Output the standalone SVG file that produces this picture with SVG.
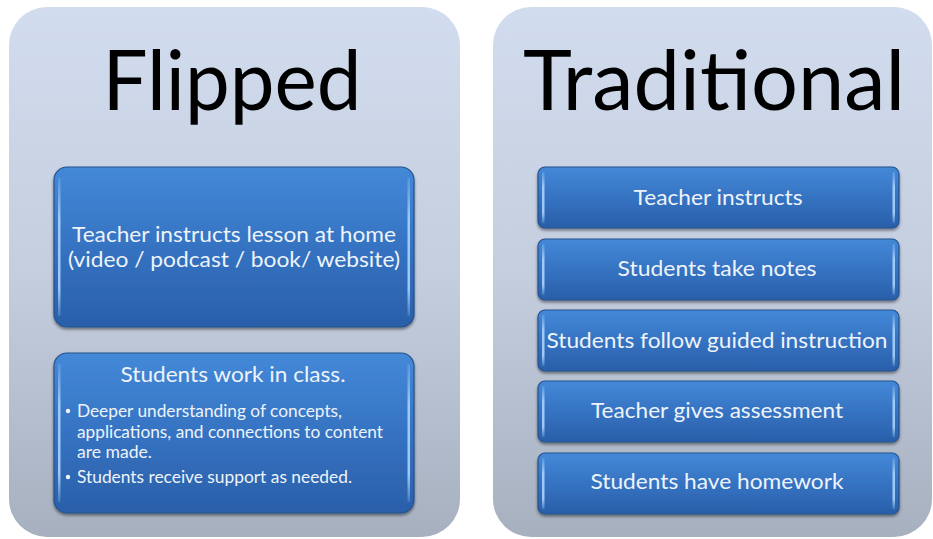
<svg xmlns="http://www.w3.org/2000/svg" width="933" height="539" viewBox="0 0 933 539">
<defs>
<linearGradient id="panelG" x1="0" y1="0" x2="0" y2="1">
<stop offset="0" stop-color="#d1dcee"/>
<stop offset="0.5" stop-color="#c4cedf"/>
<stop offset="1" stop-color="#a7b0bf"/>
</linearGradient>
<linearGradient id="boxG" x1="0" y1="0" x2="0" y2="1">
<stop offset="0" stop-color="#4489d8"/>
<stop offset="0.5" stop-color="#3573c2"/>
<stop offset="1" stop-color="#2a5fa9"/>
</linearGradient>
<linearGradient id="hiG" x1="0" y1="0" x2="0" y2="1">
<stop offset="0" stop-color="#a9d3ff" stop-opacity="0.2"/>
<stop offset="0.3" stop-color="#a9d3ff" stop-opacity="0.9"/>
<stop offset="0.8" stop-color="#a9d3ff" stop-opacity="0.9"/>
<stop offset="1" stop-color="#a9d3ff" stop-opacity="0.2"/>
</linearGradient>
<filter id="sh" x="-5%" y="-10%" width="110%" height="125%">
<feGaussianBlur in="SourceAlpha" stdDeviation="1.5"/>
<feOffset dx="0" dy="2"/>
<feComponentTransfer><feFuncA type="linear" slope="0.45"/></feComponentTransfer>
<feMerge><feMergeNode/><feMergeNode in="SourceGraphic"/></feMerge>
</filter>
</defs>
<style>
.panel{fill:url(#panelG);}
.box{fill:url(#boxG);stroke:#25528c;stroke-width:1.2;filter:url(#sh);}
.hi{fill:url(#hiG);}
.title{font-family:Lato,"Liberation Sans",sans-serif;font-size:84px;fill:#000;text-anchor:middle;}
.t{font-family:Lato,"Liberation Sans",sans-serif;font-size:22px;fill:#eef3fa;text-anchor:middle;}
.s{font-family:Lato,"Liberation Sans",sans-serif;font-size:17px;fill:#eef3fa;}
</style>
<rect width="933" height="539" fill="#ffffff"/>

<g id="flipped">
<rect class="panel" x="9" y="7" width="451" height="530" rx="38"/>
<text class="title" x="232" y="110" textLength="259" lengthAdjust="spacingAndGlyphs">Flipped</text>
</g>

<g id="traditional">
<rect class="panel" x="493" y="7" width="439" height="530" rx="38"/>
<text class="title" x="714" y="110" textLength="382" lengthAdjust="spacingAndGlyphs">Traditional</text>
</g>

<g id="flipped-home">
<rect class="box" x="54" y="167" width="360" height="160" rx="13"/>
<rect class="hi" x="58" y="178" width="2.5" height="138" rx="1"/>
<rect class="hi" x="407.5" y="178" width="2.5" height="138" rx="1"/>
<text class="t" x="234" y="242" textLength="324" lengthAdjust="spacingAndGlyphs">Teacher instructs lesson at home</text>
<text class="t" x="234" y="267" textLength="332" lengthAdjust="spacingAndGlyphs">(video / podcast / book/ website)</text>
</g>

<g id="flipped-class">
<rect class="box" x="54" y="353" width="360" height="160" rx="13"/>
<rect class="hi" x="58" y="364" width="2.5" height="138" rx="1"/>
<rect class="hi" x="407.5" y="364" width="2.5" height="138" rx="1"/>
<text class="t" x="233" y="382" textLength="225" lengthAdjust="spacingAndGlyphs">Students work in class.</text>
<circle cx="68" cy="411" r="2.2" fill="#eef3fa"/>
<text class="s" x="77" y="417" textLength="265" lengthAdjust="spacingAndGlyphs">Deeper  understanding of concepts,</text>
<text class="s" x="77" y="438" textLength="306" lengthAdjust="spacingAndGlyphs">applications, and connections to content</text>
<text class="s" x="77" y="458" textLength="75" lengthAdjust="spacingAndGlyphs">are made.</text>
<circle cx="68" cy="477" r="2.2" fill="#eef3fa"/>
<text class="s" x="77" y="483" textLength="275" lengthAdjust="spacingAndGlyphs">Students receive support as needed.</text>
</g>

<g id="trad-1">
<rect class="box" x="538" y="167" width="361" height="61" rx="7"/>
<rect class="hi" x="542" y="172" width="2.5" height="51" rx="1"/>
<rect class="hi" x="892.5" y="172" width="2.5" height="51" rx="1"/>
<text class="t" x="718" y="205" textLength="169" lengthAdjust="spacingAndGlyphs">Teacher instructs</text>
</g>
<g id="trad-2">
<rect class="box" x="538" y="239" width="361" height="61" rx="7"/>
<rect class="hi" x="542" y="244" width="2.5" height="51" rx="1"/>
<rect class="hi" x="892.5" y="244" width="2.5" height="51" rx="1"/>
<text class="t" x="717" y="276" textLength="199" lengthAdjust="spacingAndGlyphs">Students take notes</text>
</g>
<g id="trad-3">
<rect class="box" x="538" y="310" width="361" height="61" rx="7"/>
<rect class="hi" x="542" y="315" width="2.5" height="51" rx="1"/>
<rect class="hi" x="892.5" y="315" width="2.5" height="51" rx="1"/>
<text class="t" x="717" y="348" textLength="341" lengthAdjust="spacingAndGlyphs">Students follow guided instruction</text>
</g>
<g id="trad-4">
<rect class="box" x="538" y="381" width="361" height="61" rx="7"/>
<rect class="hi" x="542" y="386" width="2.5" height="51" rx="1"/>
<rect class="hi" x="892.5" y="386" width="2.5" height="51" rx="1"/>
<text class="t" x="717" y="418" textLength="252" lengthAdjust="spacingAndGlyphs">Teacher gives assessment</text>
</g>
<g id="trad-5">
<rect class="box" x="538" y="453" width="361" height="61" rx="7"/>
<rect class="hi" x="542" y="458" width="2.5" height="51" rx="1"/>
<rect class="hi" x="892.5" y="458" width="2.5" height="51" rx="1"/>
<text class="t" x="717" y="489" textLength="253" lengthAdjust="spacingAndGlyphs">Students have homework</text>
</g>
</svg>
